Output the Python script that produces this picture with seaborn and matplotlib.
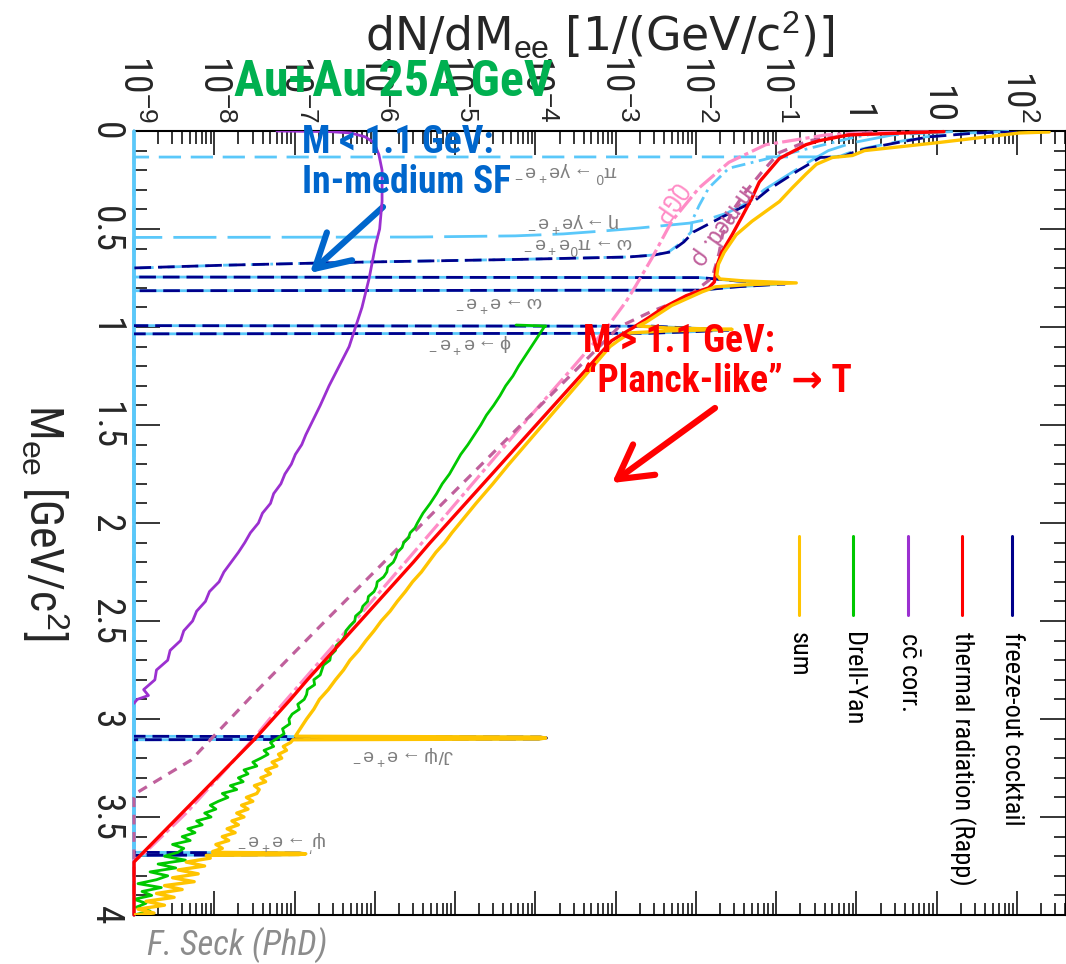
import numpy as np
import matplotlib
matplotlib.use("Agg")
import matplotlib.pyplot as plt
import seaborn as sns
from matplotlib import font_manager
from matplotlib.lines import Line2D
from matplotlib.ticker import FuncFormatter, LogLocator, NullFormatter, MultipleLocator

# ------------------------------------------------------------------
# Dielectron invariant-mass spectrum, Au+Au 25A GeV
# every series: (M_ee [GeV/c^2], log10 dN/dM_ee)
# ------------------------------------------------------------------
FLOOR = -9.0          # frame minimum: empty bins of the channels sit on the frame
ZERO = -9.1           # empty bins of the cocktail sum fall below the frame

sum_pts = [
    (0.005, 2.40), (0.01, 2.03), (0.06, 1.00), (0.10, 0.10), (0.125, -0.05), (0.135, -0.30),
    (0.17, -0.50), (0.22, -0.63), (0.29, -0.80), (0.36, -0.96), (0.46, -1.30), (0.53, -1.50),
    (0.62, -1.65), (0.68, -1.72), (0.735, -1.74), (0.755, -1.70), (0.765, -1.40), (0.775, -0.75),
    (0.785, -1.40), (0.795, -1.76), (0.805, -1.82), (0.82, -1.92), (0.89, -2.30), (0.975, -2.62),
    (0.995, -2.72), (1.005, -2.35), (1.012, -1.55), (1.02, -2.35), (1.03, -2.82), (1.07, -2.97),
    (1.1, -3.07), (1.2, -3.28), (1.3, -3.49), (1.4, -3.70), (1.5, -3.91), (1.6, -4.12),
    (1.7, -4.33), (1.8, -4.53), (1.9, -4.74), (2.0, -4.94), (2.05, -5.04), (2.10, -5.13),
    (2.15, -5.24), (2.20, -5.33), (2.25, -5.42), (2.30, -5.53), (2.35, -5.62), (2.40, -5.72),
    (2.45, -5.81), (2.50, -5.92), (2.55, -6.01), (2.60, -6.11), (2.65, -6.20), (2.70, -6.31),
    (2.75, -6.39), (2.80, -6.49), (2.85, -6.58), (2.90, -6.69), (2.95, -6.76), (3.00, -6.85),
    (3.05, -6.93), (3.075, -6.97), (3.088, -6.99), (3.092, -3.95), (3.097, -3.87), (3.102, -3.95),
    (3.106, -7.02), (3.12, -7.05), (3.14, -7.14), (3.16, -7.10), (3.18, -7.20), (3.20, -7.16),
    (3.22, -7.28), (3.24, -7.22), (3.26, -7.36), (3.28, -7.30), (3.30, -7.42), (3.32, -7.36),
    (3.34, -7.50), (3.36, -7.44), (3.38, -7.47), (3.40, -7.60), (3.42, -7.52), (3.44, -7.66),
    (3.46, -7.58), (3.48, -7.72), (3.50, -7.63), (3.52, -7.78), (3.54, -7.70), (3.56, -7.84),
    (3.58, -7.74), (3.60, -7.90), (3.62, -7.82), (3.64, -7.98), (3.66, -7.90), (3.676, -8.02),
    (3.680, -8.02), (3.684, -6.95), (3.688, -6.86), (3.692, -6.95), (3.696, -8.10), (3.71, -8.05),
    (3.73, -8.35), (3.75, -8.12), (3.77, -8.45), (3.79, -8.20), (3.81, -8.52), (3.83, -8.25),
    (3.85, -8.62), (3.87, -8.40), (3.89, -8.72), (3.91, -8.50), (3.93, -8.85), (3.95, -8.62),
    (3.97, -8.95), (3.99, -8.75), (4.00, -9.00),
]

drell_yan_pts = [
    (0.990, -4.24), (0.995, -3.87), (1.00, -3.89), (1.05, -3.97), (1.10, -4.05), (1.15, -4.13),
    (1.20, -4.21), (1.25, -4.28), (1.30, -4.37), (1.35, -4.44), (1.40, -4.52), (1.45, -4.61),
    (1.50, -4.68), (1.55, -4.76), (1.60, -4.84), (1.65, -4.93), (1.70, -5.00), (1.75, -5.07),
    (1.80, -5.16), (1.85, -5.23), (1.90, -5.31), (1.95, -5.40), (2.00, -5.47), (2.025, -5.50),
    (2.05, -5.56), (2.075, -5.58), (2.10, -5.64), (2.125, -5.66), (2.15, -5.72), (2.175, -5.74),
    (2.20, -5.77), (2.225, -5.84), (2.25, -5.85), (2.275, -5.89), (2.30, -5.97), (2.325, -5.98),
    (2.35, -6.01), (2.375, -6.08), (2.40, -6.09), (2.425, -6.15), (2.45, -6.17), (2.475, -6.24),
    (2.50, -6.25), (2.525, -6.31), (2.55, -6.36), (2.575, -6.37), (2.60, -6.41), (2.625, -6.48),
    (2.65, -6.49), (2.675, -6.55), (2.70, -6.56), (2.725, -6.64), (2.75, -6.66), (2.775, -6.68),
    (2.80, -6.76), (2.825, -6.75), (2.85, -6.84), (2.875, -6.85), (2.90, -6.88), (2.925, -6.96),
    (2.95, -6.94), (2.975, -7.03), (3.00, -7.07), (3.025, -7.06), (3.05, -7.15), (3.075, -7.13),
    (3.10, -7.22), (3.12, -7.30), (3.14, -7.26), (3.16, -7.38), (3.18, -7.33), (3.20, -7.42),
    (3.22, -7.52), (3.24, -7.47), (3.26, -7.63), (3.28, -7.58), (3.30, -7.70), (3.32, -7.64),
    (3.34, -7.80), (3.36, -7.72), (3.38, -7.90), (3.40, -7.83), (3.42, -7.95), (3.44, -8.05),
    (3.46, -7.98), (3.48, -8.12), (3.50, -8.04), (3.52, -8.22), (3.54, -8.15), (3.56, -8.33),
    (3.58, -8.24), (3.60, -8.40), (3.62, -8.30), (3.64, -8.52), (3.66, -8.38), (3.68, -8.45),
    (3.70, -8.62), (3.72, -8.36), (3.74, -8.70), (3.76, -8.48), (3.78, -8.80), (3.80, -8.58),
    (3.82, -8.72), (3.84, -8.95), (3.86, -8.66), (3.88, -8.90), (3.90, -8.78), (3.92, -9.00),
    (3.94, -8.85), (3.96, -8.97), (3.98, -8.80), (4.00, -9.00),
]

ccbar_pts = [
    (0.000, -7.22), (0.003, -6.57), (0.01, -6.30), (0.03, -6.12), (0.06, -6.01), (0.12, -5.95),
    (0.20, -5.91), (0.36, -5.91), (0.50, -5.94), (0.58, -5.99), (0.75, -6.07), (0.90, -6.16),
    (1.10, -6.32), (1.30, -6.57), (1.40, -6.68), (1.50, -6.80), (1.55, -6.86), (1.60, -6.91),
    (1.65, -6.99), (1.70, -7.04), (1.75, -7.12), (1.80, -7.17), (1.85, -7.26), (1.90, -7.30),
    (1.95, -7.40), (2.00, -7.45), (2.05, -7.55), (2.10, -7.62), (2.15, -7.70), (2.20, -7.79),
    (2.25, -7.88), (2.30, -7.94), (2.35, -8.06), (2.40, -8.11), (2.45, -8.22), (2.50, -8.27),
    (2.55, -8.38), (2.60, -8.42), (2.65, -8.55), (2.70, -8.58), (2.75, -8.72), (2.80, -8.74),
    (2.85, -8.88), (2.88, -8.82), (2.90, -8.96), (2.92, -9.00),
]

thermal_pts = [
    (0.003, 1.09), (0.02, -0.10), (0.05, -0.47), (0.07, -0.63), (0.14, -0.96), (0.26, -1.21),
    (0.34, -1.30), (0.44, -1.43), (0.53, -1.55), (0.62, -1.68), (0.70, -1.75), (0.77, -1.77),
    (0.80, -1.84), (0.84, -2.12), (0.90, -2.40), (0.95, -2.58), (1.00, -2.77), (1.07, -3.05),
    (1.2, -3.33), (1.3, -3.55), (1.4, -3.77), (1.5, -3.99), (1.6, -4.21), (1.7, -4.43),
    (1.8, -4.65), (1.9, -4.87), (2.0, -5.09), (2.1, -5.31), (2.2, -5.52), (2.3, -5.74),
    (2.4, -5.96), (2.5, -6.18), (2.6, -6.40), (2.7, -6.62), (2.8, -6.84), (2.9, -7.05),
    (3.0, -7.27), (3.1, -7.49), (3.2, -7.73), (3.3, -7.97), (3.4, -8.21), (3.5, -8.45),
    (3.6, -8.69), (3.7, -8.93), (3.73, -9.00), (4.0, -9.00),
]

qgp_pts = [
    (0.004, 0.90), (0.01, 0.03), (0.02, -0.38), (0.07, -1.13), (0.16, -1.59), (0.29, -1.96),
    (0.46, -2.30), (0.65, -2.55), (0.79, -2.75), (0.87, -2.87), (0.97, -3.05), (1.0, -3.10),
    (1.2, -3.52), (1.5, -4.16), (2.0, -5.20), (2.5, -6.25), (3.0, -7.31), (3.1, -7.51),
    (3.48, -8.35), (3.70, -8.91), (3.72, -9.00), (4.0, -9.00),
]

inmed_rho_pts = [
    (0.005, 0.19), (0.05, -0.60), (0.11, -0.96), (0.21, -1.18), (0.31, -1.38), (0.41, -1.55),
    (0.53, -1.67), (0.62, -1.71), (0.68, -1.75), (0.75, -1.80), (0.85, -2.12), (0.92, -2.55),
    (1.0, -2.96), (1.5, -4.18), (2.0, -5.40), (2.53, -6.69), (2.89, -7.55), (3.21, -8.29),
    (3.38, -8.98), (3.40, -9.00), (3.90, -9.00),
]

cocktail_pts = [
    (0.003, 2.00), (0.01, 1.50), (0.03, 0.90), (0.06, 0.50), (0.09, 0.12), (0.115, -0.08),
    (0.128, -0.15), (0.132, -0.25), (0.135, -0.45), (0.20, -0.72), (0.30, -1.10), (0.36, -1.28),
    (0.44, -1.68), (0.515, -2.03), (0.566, -2.15), (0.617, -2.32), (0.633, -2.52), (0.643, -2.85),
    (0.655, -4.20), (0.67, -6.30), (0.685, -7.90), (0.70, ZERO), (0.745, ZERO), (0.748, -1.94),
    (0.765, -1.49), (0.78, -0.89), (0.795, -1.49), (0.812, -1.94), (0.815, ZERO), (0.993, ZERO),
    (0.996, -2.54), (1.005, -2.09), (1.015, -1.59), (1.025, -2.09), (1.032, -2.59), (1.035, ZERO),
    (3.088, ZERO), (3.092, -3.94), (3.097, -3.86), (3.102, -3.94), (3.106, ZERO), (3.680, ZERO),
    (3.684, -6.94), (3.688, -6.85), (3.692, -6.94), (3.696, ZERO), (4.0, ZERO),
]

# individual cocktail channels
pi0_dalitz_pts = [(0.002, 1.90), (0.01, 1.40), (0.03, 0.85), (0.06, 0.45), (0.09, 0.08),
                  (0.115, -0.12), (0.128, -0.20), (0.132, -0.30), (0.133, FLOOR), (4.0, FLOOR)]
eta_dalitz_pts = [(0.003, 1.20), (0.02, 0.45), (0.06, -0.05), (0.10, -0.35), (0.14, -0.52),
                  (0.20, -0.76), (0.30, -1.15), (0.36, -1.33), (0.42, -1.62), (0.45, -1.85),
                  (0.47, -2.08), (0.495, -2.71), (0.51, -3.15), (0.525, -3.65), (0.535, -4.25),
                  (0.541, -5.50), (0.543, FLOOR), (4.0, FLOOR)]
omega_dalitz_pts = [(0.01, 0.30), (0.03, -0.01), (0.19, -1.59), (0.29, -1.84), (0.38, -1.96),
                    (0.46, -2.05), (0.515, -2.06), (0.566, -2.17), (0.617, -2.34), (0.633, -2.54),
                    (0.643, -2.87), (0.655, -4.22), (0.67, -6.32), (0.685, -7.92), (0.70, FLOOR),
                    (4.0, FLOOR)]
omega_ee_pts = [(0.0, FLOOR), (0.745, FLOOR), (0.748, -1.95), (0.765, -1.50), (0.78, -0.90),
                (0.795, -1.50), (0.812, -1.95), (0.815, FLOOR), (4.0, FLOOR)]
phi_ee_pts = [(0.0, FLOOR), (0.993, FLOOR), (0.996, -2.55), (1.005, -2.10), (1.015, -1.60),
              (1.025, -2.10), (1.032, -2.60), (1.035, FLOOR), (4.0, FLOOR)]
jpsi_ee_pts = [(0.0, FLOOR), (3.088, FLOOR), (3.092, -3.95), (3.097, -3.87), (3.102, -3.95),
               (3.106, FLOOR), (4.0, FLOOR)]
psi2s_ee_pts = [(0.0, FLOOR), (3.680, FLOOR), (3.684, -6.95), (3.688, -6.86), (3.692, -6.95),
                (3.696, FLOOR), (4.0, FLOOR)]

# channel labels: (text, log10 position, M position)
channel_labels = [
    (r"$\mathrm{\pi^0\rightarrow\gamma e^+e^-}$", -3.62, 0.209),
    (r"$\mathrm{\eta\rightarrow\gamma e^+e^-}$", -3.52, 0.464),
    (r"$\mathrm{\omega\rightarrow\pi^0 e^+e^-}$", -3.47, 0.582),
    (r"$\mathrm{\omega\rightarrow e^+e^-}$", -4.45, 0.872),
    (r"$\mathrm{\phi\rightarrow e^+e^-}$", -4.81, 1.082),
    (r"$\mathrm{J/\psi\rightarrow e^+e^-}$", -5.65, 3.18),
    (r"$\mathrm{\psi'\rightarrow e^+e^-}$", -7.16, 3.62),
]

legend_entries = ["freeze-out cocktail", "thermal radiation (Rapp)", r"c$\mathrm{\bar{c}}$ corr.",
                  "Drell-Yan", "sum"]

# ------------------------------------------------------------------
C_NAVY = "#00008b"
C_LBLUE = "#5ac8fa"
C_RED = "#ff0000"
C_GREEN = "#00c800"
C_PURPLE = "#9b30d0"
C_YELLOW = "#ffc400"
C_PINK = "#ff8cc6"
C_MAUVE = "#c0609c"

sns.set_style("ticks")
names = {f.name for f in font_manager.fontManager.ttflist}
NARROW = next((n for n in ["Liberation Sans Narrow", "Roboto Condensed", "DejaVu Sans Condensed",
                           "Liberation Sans"] if n in names), "DejaVu Sans")
plt.rcParams["font.family"] = ["Liberation Sans", "DejaVu Sans"]
plt.rcParams["mathtext.fontset"] = "custom"
plt.rcParams["mathtext.rm"] = "Liberation Sans"
plt.rcParams["mathtext.it"] = "Liberation Sans:italic"
plt.rcParams["mathtext.bf"] = "Liberation Sans:bold"
plt.rcParams["lines.scale_dashes"] = False

W, H = 1066, 964
fig = plt.figure(figsize=(W / 100, H / 100), dpi=100)
ax = fig.add_axes([134 / W, 1 - 915 / H, (W - 134) / W, (915 - 131) / H])
ax.set_xscale("log")


def draw(pts, color, lw, dashes=None, z=2, clip=True):
    m = np.array([p[0] for p in pts])
    v = 10.0 ** np.array([p[1] for p in pts])
    sns.lineplot(x=v, y=m, estimator=None, sort=False, color=color, lw=lw, ax=ax,
                 legend=False, zorder=z, clip_on=clip)
    line = ax.lines[-1]
    if dashes is not None:
        line.set_dashes(dashes)
    return line


# cocktail channels
draw(pi0_dalitz_pts, C_LBLUE, 2.0, dashes=(16, 7), z=2, clip=False)
draw(eta_dalitz_pts, C_LBLUE, 2.0, dashes=(31, 8), z=2, clip=False)
draw(omega_dalitz_pts, C_LBLUE, 2.0, dashes=(10, 4, 2, 4), z=2, clip=False)
for pts in (omega_ee_pts, phi_ee_pts, jpsi_ee_pts, psi2s_ee_pts):
    draw(pts, C_LBLUE, 2.0, z=2, clip=False)
draw(cocktail_pts, C_NAVY, 2.0, dashes=(12, 5), z=3, clip=True)

# medium radiation and hard sources
draw(qgp_pts, C_PINK, 2.3, dashes=(14, 3, 3, 3), z=4, clip=False)
draw(inmed_rho_pts, C_MAUVE, 2.3, dashes=(7, 5.5), z=4, clip=False)
draw(ccbar_pts, C_PURPLE, 2.0, z=5)
draw(drell_yan_pts, C_GREEN, 2.0, z=5)
draw(thermal_pts, C_RED, 2.4, z=6, clip=False)
draw(sum_pts, C_YELLOW, 2.4, z=7)

# axes
ax.set_xlim(1e-9, 10 ** 2.61)
ax.set_ylim(4, 0)
ax.set_xlabel("")
ax.set_ylabel("")
ax.xaxis.set_major_locator(LogLocator(base=10, numticks=30))
ax.xaxis.set_minor_locator(LogLocator(base=10, subs=np.arange(2, 10), numticks=300))
ax.xaxis.set_minor_formatter(NullFormatter())


def decade_label(v, pos):
    e = int(round(np.log10(v)))
    if e == 0:
        return "1"
    if e == 1:
        return "10"
    return "10$^{\\mathrm{%d}}$" % e


ax.xaxis.set_major_formatter(FuncFormatter(decade_label))
ax.yaxis.set_major_locator(MultipleLocator(0.5))
ax.yaxis.set_minor_locator(MultipleLocator(0.1))
ax.yaxis.set_major_formatter(FuncFormatter(lambda v, p: f"{v:g}"))

ax.tick_params(which="both", direction="in", top=True, bottom=True, left=True, right=True,
               labeltop=True, labelbottom=False, labelleft=True, labelright=False,
               width=1.1, color="black")
ax.tick_params(axis="x", which="major", length=17, pad=6, labelsize=27,
               labelrotation=-90, labelfontfamily=NARROW)
ax.tick_params(axis="x", which="minor", length=9)
ax.tick_params(axis="y", which="major", length=19, pad=7, labelsize=27,
               labelrotation=-90, labelfontfamily=NARROW)
ax.tick_params(axis="y", which="minor", length=9)
for lbl in ax.get_yticklabels():
    lbl.set_va("center")
for s in ax.spines.values():
    s.set_linewidth(1.5)
    s.set_color("black")
    s.set_zorder(1)

# channel labels (upside down) and model labels
for text, lx, m in channel_labels:
    ax.text(10 ** lx, m, text, rotation=180, ha="center", va="center", color="#7f7f7f",
            fontsize=14, zorder=8)
ax.text(10 ** -2.35, 0.367, "QGP", rotation=-125, ha="center", va="center", color=C_PINK,
        fontsize=18, family=[NARROW, "DejaVu Sans"], zorder=8)
ax.text(10 ** -1.67, 0.48, r"in-med. $\mathrm{\rho}$", rotation=-125, ha="center", va="center",
        color=C_MAUVE, fontsize=18, family=[NARROW, "DejaVu Sans"], zorder=8)

# legend (rotated with the frame)
leg_x = [1012, 962, 908, 853, 799]
leg_c = [C_NAVY, C_RED, C_PURPLE, C_GREEN, C_YELLOW]
for label, px, col in zip(legend_entries, leg_x, leg_c):
    fig.add_artist(Line2D([px / W, px / W], [1 - 536 / H, 1 - 615 / H], color=col, lw=2.2,
                          transform=fig.transFigure))
    fig.text(px / W, 1 - 632 / H, label, rotation=-90, rotation_mode="anchor", ha="left",
             va="center", fontsize=19, family=[NARROW, "DejaVu Sans"], color="black")

# axis titles
fig.text(600 / W, 1 - 36 / H, r"dN/dM$_{\mathrm{ee}}$ [1/(GeV/c$^{\mathrm{2}}$)]", ha="center",
         va="center", fontsize=33, family="DejaVu Sans")
fig.text(45 / W, 1 - 522 / H, r"M$_{\mathrm{ee}}$ [GeV/c$^{\mathrm{2}}$]", rotation=-90,
         ha="center", va="center", fontsize=33, family=[NARROW, "DejaVu Sans"])

# annotations
fig.text(393 / W, 1 - 82 / H, "Au+Au 25A GeV", ha="center", va="center", fontsize=36,
         weight="bold", color="#00b050", family=[NARROW, "DejaVu Sans"])
fig.text(302 / W, 1 - 153 / H, "M < 1.1 GeV:", ha="left", va="baseline", fontsize=27,
         weight="bold", color="#0066cc", family=[NARROW, "DejaVu Sans"])
fig.text(302 / W, 1 - 193 / H, "In-medium SF", ha="left", va="baseline", fontsize=27,
         weight="bold", color="#0066cc", family=[NARROW, "DejaVu Sans"])
fig.text(583 / W, 1 - 352 / H, "M > 1.1 GeV:", ha="left", va="baseline", fontsize=27,
         weight="bold", color=C_RED, family=[NARROW, "DejaVu Sans"])
fig.text(583 / W, 1 - 392 / H, "\u201cPlanck-like\u201d \u2192 T", ha="left", va="baseline",
         fontsize=27, weight="bold", color=C_RED, family=[NARROW, "DejaVu Sans"])
ax.annotate("", xy=(310 / W, 1 - 273 / H), xytext=(383 / W, 1 - 207 / H),
            xycoords="figure fraction", textcoords="figure fraction",
            arrowprops=dict(arrowstyle="->,head_length=0.8,head_width=0.45", lw=4.5,
                            color="#0066cc", mutation_scale=30, shrinkA=0, shrinkB=0))
ax.annotate("", xy=(612 / W, 1 - 483 / H), xytext=(715 / W, 1 - 408 / H),
            xycoords="figure fraction", textcoords="figure fraction",
            arrowprops=dict(arrowstyle="->,head_length=0.8,head_width=0.45", lw=4.5,
                            color=C_RED, mutation_scale=30, shrinkA=0, shrinkB=0))
fig.text(147 / W, 1 - 955 / H, "F. Seck (PhD)", ha="left", va="baseline", fontsize=25,
         style="italic", color="#8c8c8c", family=[NARROW, "DejaVu Sans"])

fig.savefig("out.png", dpi=100)
